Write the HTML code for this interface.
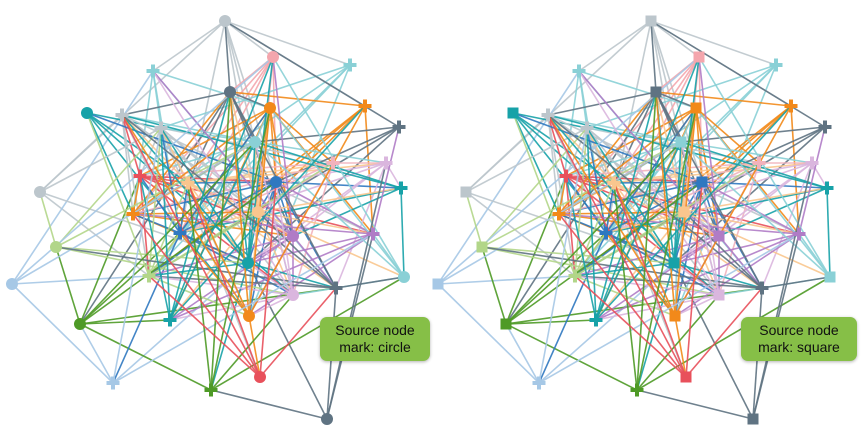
<!DOCTYPE html>
<html><head><meta charset="utf-8"><style>
body{margin:0;background:#fff;width:864px;height:436px;overflow:hidden;position:relative;font-family:"Liberation Sans",sans-serif}
svg{position:absolute;left:0;top:0}
.tip{position:absolute;background:#86bf47;border-radius:7px;box-shadow:0 1px 3px rgba(0,0,0,.3);color:#111;font-size:14px;line-height:17px;text-align:center;padding:5px 0;height:34px}
</style></head><body>
<svg id="s" width="864" height="436"></svg>
<div class="tip" style="left:320px;top:317px;width:110px">Source node<br>mark: circle</div>
<div class="tip" style="left:741px;top:317px;width:116px">Source node<br>mark: square</div>
<script>
var C={gray:"#bcc6cc",pink:"#f4a6ad",lt:"#8ad0d6",sl:"#5f7382",te:"#17a2a8",or:"#f2891a",bl:"#2f78c0",pk2:"#f2b2bc",lav:"#dab6de",rd:"#e8505b",pe:"#f9c68e",pu:"#b07cc6",lg:"#b2d689",lb:"#a6c8e6",gr:"#4e9a26"};
var N=[[225,21,"gray","c"],[273,57,"pink","c"],[350,65,"lt","p"],[153,71,"lt","p"],[230,92,"sl","c"],[87,113,"te","c"],[122,115,"gray","p"],[270,108,"or","c"],[365,106,"or","p"],[161,128,"gray","p"],[399,127,"sl","p"],[255,142,"lt","c"],[140,176,"rd","p"],[188,183,"pe","p"],[276,182,"bl","c"],[333,163,"pk2","p"],[386,163,"lav","p"],[40,192,"gray","c"],[401,188,"te","p"],[133,214,"or","p"],[258,212,"pe","c"],[180,233,"bl","p"],[56,247,"lg","c"],[293,236,"pu","c"],[373,234,"pu","p"],[248,263,"te","c"],[149,276,"lg","p"],[12,284,"lb","c"],[404,277,"lt","c"],[336,288,"sl","p"],[293,295,"lav","c"],[80,324,"gr","c"],[170,320,"te","p"],[249,316,"or","c"],[113,383,"lb","p"],[211,390,"gr","p"],[260,377,"rd","c"],[327,419,"sl","c"]];
function cen(n){var dx=n[0]-240,dy=n[1]-200;return Math.sqrt(dx*dx+dy*dy);}
var seed=11;function r(){seed=(seed*16807)%2147483647;return seed/2147483647;}
var E=[[0,3],[0,2],[0,17],[0,1],[17,6],[17,26],[27,34],[27,26],[27,3],[34,31],[34,25],[37,35],[37,29],[37,25],[31,35],[31,29],[31,32],[35,28],[36,29],[22,17],[31,22],[31,12],[31,21]];var seen={};
E.forEach(function(e){seen[Math.min(e[0],e[1])+"_"+Math.max(e[0],e[1])]=1;});
for(var i=0;i<N.length;i++){var ci=cen(N[i]);var k=Math.max(3,Math.round(11-ci/28));var t=0,g=0;
if(ci>200)k=2;
while(t<k&&g<800){g++;var j=Math.floor(r()*N.length);if(j==i)continue;
var cj=cen(N[j]);if(r()>Math.max(0.04,1-cj/200))continue;
var dx=N[i][0]-N[j][0],dy=N[i][1]-N[j][1],d=Math.sqrt(dx*dx+dy*dy);if(d>300&&r()<0.85)continue;
var key=Math.min(i,j)+"_"+Math.max(i,j);if(seen[key])continue;seen[key]=1;E.push([i,j]);t++;}}
var out="";
[0,426].forEach(function(o,gi){
E.forEach(function(e){var a=N[e[0]],b=N[e[1]];out+='<line x1="'+(a[0]+o)+'" y1="'+a[1]+'" x2="'+(b[0]+o)+'" y2="'+b[1]+'" stroke="'+C[a[2]]+'" stroke-width="1.6" stroke-opacity="0.9"/>';});
N.forEach(function(n){var x=n[0]+o,y=n[1],c=C[n[2]];
if(n[3]=="c"){if(gi==0)out+='<circle cx="'+x+'" cy="'+y+'" r="6" fill="'+c+'"/>';else out+='<rect x="'+(x-5.5)+'" y="'+(y-5.5)+'" width="11" height="11" fill="'+c+'"/>';}
else{out+='<rect x="'+(x-6.5)+'" y="'+(y-2)+'" width="13" height="4" fill="'+c+'"/><rect x="'+(x-2)+'" y="'+(y-6.5)+'" width="4" height="13" fill="'+c+'"/>';}});
});
document.getElementById("s").innerHTML=out;
</script>
</body></html>
